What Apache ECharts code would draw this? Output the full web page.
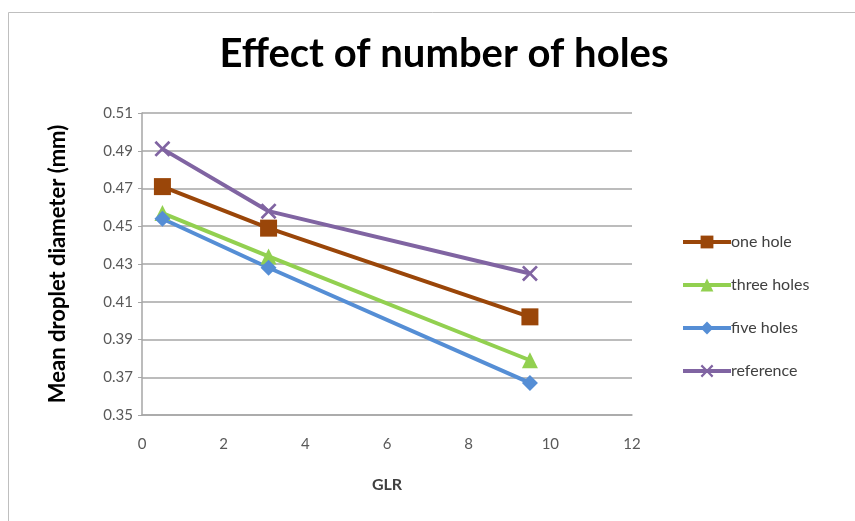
<!DOCTYPE html>
<html><head><meta charset="utf-8">
<script src="https://cdn.jsdelivr.net/npm/echarts@6/dist/echarts.min.js"></script>
<style>html,body{margin:0;padding:0;background:#fff}#c{width:855px;height:521px}</style>
</head><body><div id="c"></div>
<script>
const glr = [0.5, 3.1, 9.5];
const oneHole = [0.471, 0.449, 0.402];
const threeHoles = [0.457, 0.434, 0.379];
const fiveHoles = [0.454, 0.428, 0.367];
const reference = [0.491, 0.458, 0.425];
const seriesNames = ['one hole', 'three holes', 'five holes', 'reference'];

const F = 'Lato, "Open Sans", sans-serif';
const xPath = 'path://M0,1.2 L1.2,0 L5,3.8 L8.8,0 L10,1.2 L6.2,5 L10,8.8 L8.8,10 L5,6.2 L1.2,10 L0,8.8 L3.8,5 Z';
function pts(v){ return glr.map((x,i)=>[x, v[i]]); }
function mk(name, data, color, symbol, size){
  return {name, type:'line', data:pts(data), symbol, symbolSize:size,
    lineStyle:{color, width:4}, itemStyle:{color}, emphasis:{disabled:true}};
}
const chart = echarts.init(document.getElementById('c'), null, {renderer:'canvas'});
chart.setOption({
  animation:false,
  backgroundColor:'#fff',
  graphic:[{type:'rect', shape:{x:8.5, y:12.5, width:900, height:600}, style:{fill:'none', stroke:'#bfbfbf', lineWidth:1}, z:-1}],
  title:{text:'Effect of number of holes', left:439, top:29, textAlign:'center',
    textStyle:{fontFamily:F, fontSize:40, fontWeight:'bold', color:'#000'}},
  legend:{orient:'vertical', left:676, top:229, itemGap:27, itemWidth:48, itemHeight:16,
    data:seriesNames, lineStyle:{width:4},
    textStyle:{fontFamily:F, fontSize:16, color:'#404040', padding:[0,0,0,-5]}},
  grid:{left:142, right:223, top:113, bottom:106},
  xAxis:{type:'value', min:0, max:12, interval:2,
    name:'GLR', nameLocation:'middle', nameGap:62,
    nameTextStyle:{fontFamily:F, fontSize:16, fontWeight:'bold', color:'#404040'},
    axisLine:{show:true, lineStyle:{color:'#a6a6a6', width:1.5}},
    axisTick:{show:false},
    axisLabel:{fontFamily:F, fontSize:15, color:'#595959', margin:22},
    splitLine:{show:false}},
  yAxis:{type:'value', min:0.35, max:0.51, interval:0.02,
    name:'Mean droplet diameter (mm)', nameLocation:'middle', nameGap:73, nameRotate:90,
    nameTextStyle:{fontFamily:F, fontSize:22, fontWeight:'bold', color:'#000'},
    axisLine:{show:true, lineStyle:{color:'#a6a6a6', width:1.5}},
    axisTick:{show:true, inside:false, length:4, lineStyle:{color:'#a6a6a6'}},
    axisLabel:{fontFamily:F, fontSize:15, color:'#595959', margin:9, formatter:v=>v.toFixed(2)},
    splitLine:{show:true, lineStyle:{color:'#a6a6a6', width:1.5}}},
  series:[
    mk('one hole', oneHole, '#9a4609', 'rect', 17),
    mk('three holes', threeHoles, '#92d050', 'triangle', 16),
    mk('five holes', fiveHoles, '#558ed5', 'diamond', 16),
    mk('reference', reference, '#8064a2', xPath, 16)
  ]
});
</script></body></html>
